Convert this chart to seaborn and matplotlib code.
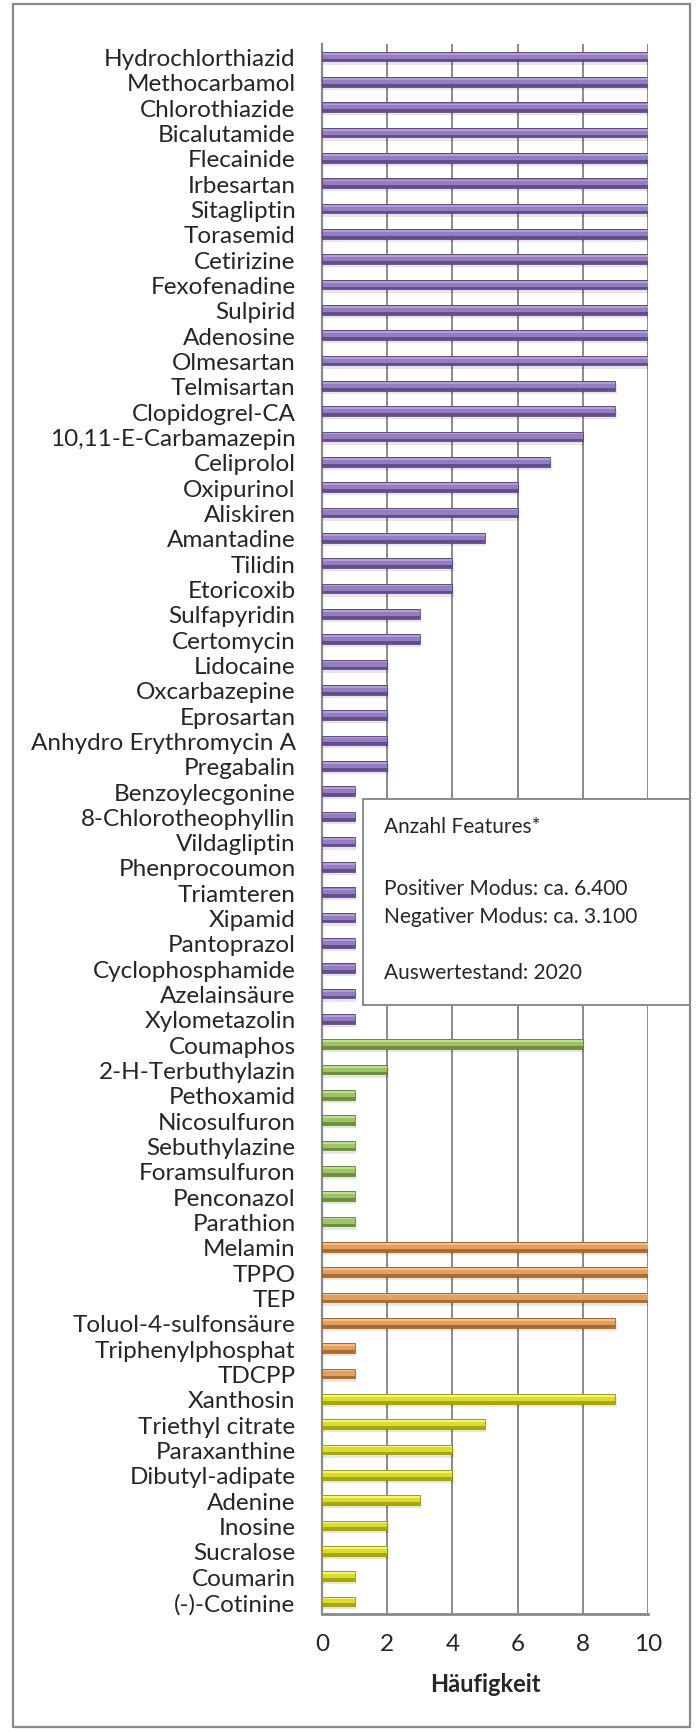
import numpy as np
import pandas as pd
import seaborn as sns
import matplotlib.pyplot as plt
import matplotlib.colors as mcolors
from matplotlib.patches import Rectangle

# substances, top to bottom
names = [
    'Hydrochlorthiazid', 'Methocarbamol', 'Chlorothiazide', 'Bicalutamide', 'Flecainide',
    'Irbesartan', 'Sitagliptin', 'Torasemid', 'Cetirizine', 'Fexofenadine', 'Sulpirid',
    'Adenosine', 'Olmesartan', 'Telmisartan', 'Clopidogrel-CA', '10,11-E-Carbamazepin',
    'Celiprolol', 'Oxipurinol', 'Aliskiren', 'Amantadine', 'Tilidin', 'Etoricoxib',
    'Sulfapyridin', 'Certomycin', 'Lidocaine', 'Oxcarbazepine', 'Eprosartan',
    'Anhydro Erythromycin A', 'Pregabalin', 'Benzoylecgonine', '8-Chlorotheophyllin',
    'Vildagliptin', 'Phenprocoumon', 'Triamteren', 'Xipamid', 'Pantoprazol',
    'Cyclophosphamide', 'Azelainsäure', 'Xylometazolin',
    'Coumaphos', '2-H-Terbuthylazin', 'Pethoxamid', 'Nicosulfuron', 'Sebuthylazine',
    'Foramsulfuron', 'Penconazol', 'Parathion',
    'Melamin', 'TPPO', 'TEP', 'Toluol-4-sulfonsäure', 'Triphenylphosphat', 'TDCPP',
    'Xanthosin', 'Triethyl citrate', 'Paraxanthine', 'Dibutyl-adipate', 'Adenine',
    'Inosine', 'Sucralose', 'Coumarin', '(-)-Cotinine',
]
values = [
    10, 10, 10, 10, 10, 10, 10, 10, 10, 10, 10, 10, 10, 9, 9, 8, 7, 6, 6, 5, 4, 4,
    3, 3, 2, 2, 2, 2, 2, 1, 1, 1, 1, 1, 1, 1, 1, 1, 1,
    8, 2, 1, 1, 1, 1, 1, 1,
    10, 10, 10, 9, 1, 1,
    9, 5, 4, 4, 3, 2, 2, 1, 1,
]
groups = ['violett'] * 39 + ['gruen'] * 8 + ['orange'] * 6 + ['gelb'] * 9
palette = {'violett': '#9272cc', 'gruen': '#a2d25a', 'orange': '#f6a04a', 'gelb': '#f6f61a'}

box_lines = ['Anzahl Features*', '', 'Positiver Modus: ca. 6.400',
             'Negativer Modus: ca. 3.100', '', 'Auswertestand: 2020']

df = pd.DataFrame({'name': names, 'value': values, 'group': groups})

sns.set_style('white')
plt.rcParams['font.family'] = ['Lato', 'DejaVu Sans']

W, H = 696, 1733
fig = plt.figure(figsize=(W / 100, H / 100), dpi=100)
ax = fig.add_axes([322 / W, 1 - 1615 / H, (648 - 322) / W, (1615 - 45) / H])

bw = 0.38
grey = '#8a8a8a'
ypos = np.arange(len(names))
base_cols = np.array([mcolors.to_rgb(palette[g]) for g in groups])
light_cols = base_cols + (1 - base_cols) * 0.3
dark_cols = base_cols * 0.68

# soft shadow under the bars
ax.barh(ypos + 0.13, np.array(values) + 0.04, height=bw, color='black', alpha=0.10,
        linewidth=0, zorder=2)

sns.barplot(data=df, x='value', y='name', hue='group', palette=palette,
            dodge=False, width=bw, legend=False, ax=ax, zorder=3, linewidth=0)

# cylinder look: soft light strip on top, darker strip at the bottom
ax.barh(ypos - bw * 0.3, values, height=bw * 0.18, color=light_cols, linewidth=0, zorder=4)
ax.barh(ypos + bw * 0.36, values, height=bw * 0.28, color=dark_cols, linewidth=0, zorder=4)
# thin outline
ax.barh(ypos, values, height=bw, facecolor='none', edgecolor=base_cols * 0.6,
        linewidth=0.6, zorder=5)

ax.set_xlim(0, 10)
ax.set_ylim(len(names) - 0.5, -0.5)

ax.set_xticks([0, 2, 4, 6, 8, 10])
ax.grid(axis='x', color=grey, linewidth=1.4, zorder=0)
ax.grid(axis='y', visible=False)
ax.set_axisbelow(True)

for s in ['top', 'right']:
    ax.spines[s].set_visible(False)
ax.spines['left'].set_color(grey)
ax.spines['left'].set_linewidth(1.6)
ax.spines['bottom'].set_color(grey)
ax.spines['bottom'].set_linewidth(2.0)

ax.set_yticks(ypos)
ax.set_yticklabels(names)
ax.set_yticks(np.arange(len(names) + 1) - 0.5, minor=True)
ax.tick_params(axis='y', which='major', length=0, pad=19, labelsize=17.5)
ax.tick_params(axis='y', which='minor', length=6.5, width=1.4, color=grey, direction='out')
ax.tick_params(axis='x', which='major', length=6, width=1.4, color=grey, direction='out',
               pad=8, labelsize=17.5)

ax.set_ylabel('')
ax.set_xlabel('Häufigkeit', fontsize=17, fontweight='bold', labelpad=13)

# text box
fig.patches.append(Rectangle((363 / W, 1 - 1006 / H), (690 - 363) / W, (1006 - 800) / H,
                             transform=fig.transFigure, facecolor='white',
                             edgecolor=grey, linewidth=1.4, zorder=10))
line_y = {0: 827, 2: 889, 3: 917, 5: 973}
for i, txt in enumerate(box_lines):
    if txt:
        fig.text(384 / W, 1 - line_y[i] / H, txt, fontsize=15, va='center', ha='left', zorder=11)

# outer frame
fig.patches.append(Rectangle((13 / W, 1 - 1728 / H), (690 - 13) / W, (1728 - 5) / H,
                             transform=fig.transFigure, facecolor='none',
                             edgecolor=grey, linewidth=1.6, zorder=12))

fig.savefig('out.png', dpi=100)
